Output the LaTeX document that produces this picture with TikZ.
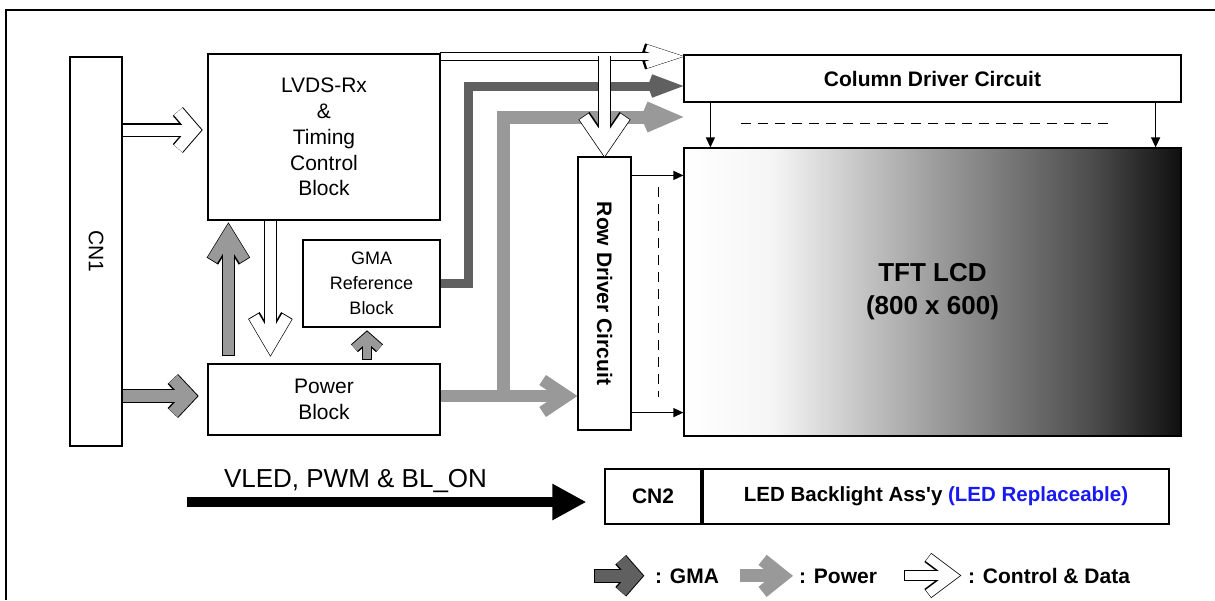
\documentclass[tikz,border=0pt]{standalone}
\usepackage{fontspec}
\setmainfont{Liberation Sans}
\usepackage{graphicx}
\usetikzlibrary{arrows.meta,calc}
\definecolor{gmagray}{RGB}{96,96,96}
\definecolor{pwrgray}{RGB}{153,153,153}
\definecolor{repblue}{RGB}{25,25,245}
\newcommand{\txtreg}{\fontsize{21}{25.8}\selectfont}
\newcommand{\txtgma}{\fontsize{18}{25}\selectfont}
\newcommand{\txtlcd}{\fontsize{26}{33}\selectfont\bfseries}
\newcommand{\txtbl}{\fontsize{26}{30}\selectfont}
\pgfdeclarehorizontalshading{lcdfade}{100bp}{color(0bp)=(white); color(25bp)=(white); color(34bp)=(white!96!black); color(50bp)=(white!62!black); color(66bp)=(white!30!black); color(75bp)=(white!6!black); color(100bp)=(white!6!black)}

\tikzset{
    blk/.style={draw=black, line width=1.2pt, fill=white, inner sep=0pt, align=center, font=\txtreg},
    barb/.style n args={3}{line width=#1, line join=miter, -{Straight Barb[length=#2, width=#3]}},
    rimmed/.style n args={3}{preaction={draw=black, line width=#1+2.4pt, line join=miter,
        shorten >=-1.3pt, shorten <=-0.8pt, -{Straight Barb[length=#2, width=#3]}}},
    ctrlarrow/.style n args={3}{draw=white, barb={#1}{#2}{#3}, rimmed={#1}{#2}{#3}},
    pwrarrow/.style n args={3}{draw=pwrgray, barb={#1}{#2}{#3}},
    pwrrim/.style n args={3}{pwrarrow={#1}{#2}{#3}, rimmed={#1}{#2}{#3}},
    gmaarrow/.style n args={3}{draw=gmagray, barb={#1}{#2}{#3}},
    sig/.style={line width=1.2pt, -{Triangle[length=10pt, width=9pt]}},
    dotrow/.style={line width=1.5pt, dash pattern=on 10pt off 7pt},
    keytxt/.style={anchor=base west, inner sep=0pt, font=\txtreg\bfseries}
}

\begin{document}
\begin{tikzpicture}[x=1pt, y=-1pt]
    \useasboundingbox (0,0) rectangle (1215,600);
    \draw[line width=2pt] (1215,10) -- (6,10) -- (6,600);

    % blocks
    \node[blk, minimum width=52pt, minimum height=389pt] (cn1) at (96,251.5) {\rotatebox{-90}{CN1}};
    \node[blk, minimum width=232pt, minimum height=166pt] (lvds) at (324,137) {LVDS-Rx\\\&\\Timing\\Control\\Block};
    \node[blk, minimum width=137pt, minimum height=87pt, font=\txtgma] (gma) at (371.5,283.5) {GMA\\Reference\\Block};
    \node[blk, minimum width=232pt, minimum height=71pt, font=\txtreg] (pwr) at (324,399.5) {Power\\Block};
    \node[blk, minimum width=53pt, minimum height=273pt] (rowdrv) at (604.5,293.5) {\rotatebox{-90}{\bfseries Row Driver Circuit}};
    \node[blk, minimum width=497pt, minimum height=47pt, font=\txtreg\bfseries] (coldrv) at (932.5,78.5) {Column Driver Circuit};
    \node[blk, fill=none, shade, shading=lcdfade, minimum width=497pt, minimum height=288pt, font=\txtlcd] (tft) at (932.5,292) {TFT LCD\\(800 x 600)};
    \node[blk, minimum width=96pt, minimum height=55pt, font=\txtreg\bfseries] (cn2) at (653,496.5) {CN2};
    \node[blk, minimum width=466pt, minimum height=55pt, font=\fontsize{20.5}{24}\selectfont\bfseries] (led) at (936,496.5) {LED Backlight Ass\textquotesingle y {\color{repblue}(LED Replaceable)}};

    % legend and backlight label
    \node[anchor=base, inner sep=0pt, font=\txtbl] (bllbl) at (355.5,487) {VLED, PWM \& BL\_ON};
    \node[keytxt] (keygma) at (655,583) {: GMA};
    \node[keytxt] (keypwr) at (799,583) {: Power};
    \node[keytxt] (keyctl) at (968,583) {: Control \& Data};

    \coordinate (pwrout) at ([yshift=3.5pt]pwr.east);
    \coordinate (pwrup) at (503,117);
    \coordinate (gmaup) at (468,86);
    \coordinate (blstart) at (187,502);

    % GMA and power buses
    \draw[gmaarrow={9pt}{20pt}{15pt}] (gma.east) -| (gmaup) -- (gmaup -| coldrv.west);
    \draw[pwrarrow={12pt}{24pt}{32pt}] (pwrout) -- (pwrout -| rowdrv.west);
    \draw[pwrarrow={13pt}{22pt}{19pt}] (pwrup |- pwrout) -- (pwrup) -- (pwrup -| coldrv.west);

    % connector arrows
    \draw[ctrlarrow={11pt}{16pt}{37pt}] ([yshift=7pt]lvds.west -| cn1.east) -- ([xshift=-6pt,yshift=7pt]lvds.west);
    \draw[pwrrim={12pt}{16pt}{34pt}] ([yshift=3.5pt]pwr.west -| cn1.east) -- ([xshift=-10pt,yshift=3.5pt]pwr.west);
    \draw[pwrrim={11pt}{26pt}{32pt}] ([xshift=21pt,yshift=8pt]pwr.north west) -- ([xshift=21pt,yshift=-3pt]lvds.south west);
    \draw[ctrlarrow={11pt}{28pt}{33pt}] ([xshift=63pt]lvds.south west) -- ([xshift=63pt,yshift=8pt]pwr.north west);
    \draw[pwrrim={8pt}{11pt}{25pt}] ([xshift=-4.5pt,yshift=4pt]gma.south |- pwr.north) -- ([xshift=-4.5pt,yshift=-4pt]gma.south);
    \draw[ctrlarrow={7pt}{26pt}{17pt}] ([yshift=-3pt]lvds.north east) -- ([yshift=-2pt]coldrv.north west);
    \draw[ctrlarrow={11pt}{30pt}{41pt}] ([yshift=-3pt]rowdrv.north |- lvds.north) -- (rowdrv.north);

    % row and column signals
    \draw[sig] ([yshift=-19pt]rowdrv.north east) -- ([yshift=-19pt]rowdrv.north east -| tft.west);
    \draw[sig] ([yshift=18pt]rowdrv.south east) -- ([yshift=18pt]rowdrv.south east -| tft.west);
    \draw[sig] ([xshift=27pt]coldrv.south west) -- ([xshift=27pt]coldrv.south west |- tft.north);
    \draw[sig] ([xshift=-26pt]coldrv.south east) -- ([xshift=-26pt]coldrv.south east |- tft.north);
    \draw[dotrow] ([xshift=58pt,yshift=-21pt]coldrv.south west) -- ([xshift=-69pt,yshift=-21pt]coldrv.south east);
    \draw[dotrow] ([xshift=27pt,yshift=-31pt]rowdrv.north east) -- ([xshift=27pt,yshift=34pt]rowdrv.south east);

    % backlight
    \draw[line width=10pt, -{Triangle[length=34pt, width=34pt]}] (blstart) -- ([xshift=-18pt,yshift=-5.5pt]cn2.west);

    % legend arrows
    \draw[gmaarrow={12pt}{14pt}{32pt}, rimmed={12pt}{14pt}{32pt}] ([xshift=-60pt]keygma.west) -- ([xshift=-12pt]keygma.west);
    \draw[pwrarrow={13pt}{20pt}{32pt}] ([xshift=-59pt]keypwr.west) -- ([xshift=-6pt]keypwr.west);
    \draw[ctrlarrow={9pt}{24pt}{36pt}] ([xshift=-63pt]keyctl.west) -- ([xshift=-8pt]keyctl.west);
\end{tikzpicture}
\end{document}
